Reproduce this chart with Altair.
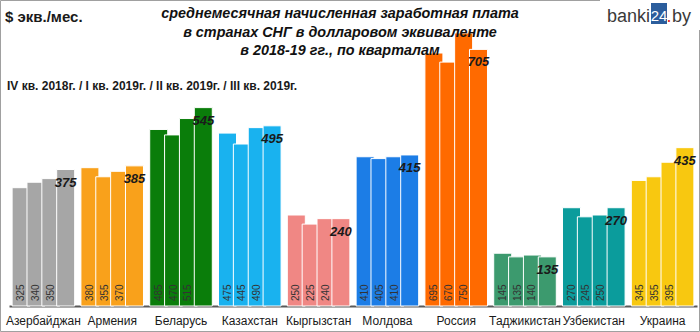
import altair as alt
import pandas as pd

countries = ["Азербайджан", "Армения", "Беларусь", "Казахстан", "Кыргызстан",
             "Молдова", "Россия", "Таджикистан", "Узбекистан", "Украина"]
quarters = ["IV кв. 2018", "I кв. 2019", "II кв. 2019", "III кв. 2019"]
q4_2018 = [325, 380, 485, 475, 250, 410, 695, 145, 270, 345]
q1_2019 = [340, 355, 470, 445, 225, 405, 670, 135, 245, 355]
q2_2019 = [350, 370, 515, 490, 240, 410, 750, 140, 250, 395]
q3_2019 = [375, 385, 545, 495, 240, 415, 705, 135, 270, 435]
colors = ["#a6a6a6", "#f9a11b", "#0a7d0a", "#19b2ef", "#f08784",
          "#1c7de6", "#ff6a00", "#3c9a6e", "#0b9c9c", "#f8c810"]

rows = []
for i, c in enumerate(countries):
    for qi, series in enumerate([q4_2018, q1_2019, q2_2019, q3_2019]):
        rows.append({"country": c, "q": qi, "quarter": quarters[qi], "value": series[i]})
df = pd.DataFrame(rows)

FONT = "Liberation Sans"
W, H = 688, 273
PL, PT = 9, 33

x_enc = alt.X("country:N", sort=countries,
              scale=alt.Scale(paddingInner=0.08, paddingOuter=0.04),
              axis=alt.Axis(title=None, labelAngle=0, ticks=False, domainColor="#595959",
                            domainWidth=2, labelFontSize=12, labelColor="#1a1a1a",
                            labelFont=FONT, labelPadding=9))
xo_enc = alt.XOffset("q:O", scale=alt.Scale(paddingInner=0, paddingOuter=0.13))
y_scale = alt.Scale(domain=[0, 750], nice=False, zero=True)

bars = alt.Chart(df).mark_bar(width=18, stroke="white", strokeWidth=1).encode(
    x=x_enc, xOffset=xo_enc,
    y=alt.Y("value:Q", scale=y_scale, axis=None),
    color=alt.Color("country:N", scale=alt.Scale(domain=countries, range=colors), legend=None),
)

inner = alt.Chart(df).transform_filter("datum.q < 3").mark_text(
    angle=270, align="left", baseline="middle", dx=5, fontSize=10, color="#333333", font=FONT
).encode(x=x_enc, xOffset=xo_enc, y=alt.Y(datum=0), text="value:Q")

top = alt.Chart(df).transform_filter("datum.q == 3").mark_text(
    baseline="middle", dy=13, fontSize=13, fontStyle="italic", fontWeight="bold",
    color="#1a1a1a", font=FONT
).encode(x=x_enc, xOffset=xo_enc, y=alt.Y("value:Q", scale=y_scale), text="value:Q")

one = pd.DataFrame({"k": [0]})

def txt(s, x, y, **kw):
    return alt.Chart(one).mark_text(text=s, font=FONT, **kw).encode(
        x=alt.value(x - PL), y=alt.value(y - PT))

unit = txt("$ экв./мес.", 5, 17, align="left", baseline="middle", fontSize=15,
           fontWeight="bold", color="#1a1a1a")
t1 = txt("среднемесячная начисленная заработная плата", 340, 14, align="center",
         baseline="middle", fontSize=14.4, fontWeight="bold", fontStyle="italic", color="#111111")
t2 = txt("в странах СНГ в долларовом эквиваленте", 340, 33, align="center",
         baseline="middle", fontSize=14.4, fontWeight="bold", fontStyle="italic", color="#111111")
t3 = txt("в 2018-19 гг., по кварталам", 340, 51, align="center",
         baseline="middle", fontSize=14.4, fontWeight="bold", fontStyle="italic", color="#111111")
sub = txt("IV кв. 2018г.  / I кв. 2019г.  / II кв. 2019г.  / III  кв. 2019г.", 7, 86,
          align="left", baseline="middle", fontSize=12, fontWeight="bold", color="#1a1a1a")

box = alt.Chart(one).mark_rect(color="#2b5d9c").encode(
    x=alt.value(651 - PL), x2=alt.value(667 - PL), y=alt.value(3 - PT), y2=alt.value(24 - PT))
logo1 = txt("banki", 650, 22, align="right", baseline="alphabetic", fontSize=18, color="#3a3a3a")
logo2 = txt("24", 659, 21, align="center", baseline="alphabetic", fontSize=15, color="white")
logo3 = txt(".", 669, 22, align="center", baseline="alphabetic", fontSize=18, color="#e02020")
logo4 = txt("by", 672, 22, align="left", baseline="alphabetic", fontSize=18, color="#3a3a3a")

def rule(x1, y1, x2, y2):
    return alt.Chart(one).mark_rule(color="#a0a0a0", strokeWidth=1).encode(
        x=alt.value(x1 - PL), y=alt.value(y1 - PT), x2=alt.value(x2 - PL), y2=alt.value(y2 - PT))

borders = [rule(0.5, 0.5, 600, 0.5), rule(0.5, 0.5, 0.5, 331.5), rule(0.5, 331.5, 699.5, 331.5),
           rule(699.5, 30, 699.5, 331.5)]

chart = alt.layer(bars, inner, top, unit, t1, t2, t3, sub, box, logo1, logo2, logo3, logo4,
                  *borders).properties(
    width=W, height=H, autosize="none",
    padding={"left": PL, "top": PT, "right": 700 - PL - W, "bottom": 332 - PT - H},
).configure_view(stroke=None)

chart.save("out.html", embed_options={"renderer": "svg", "actions": False})
